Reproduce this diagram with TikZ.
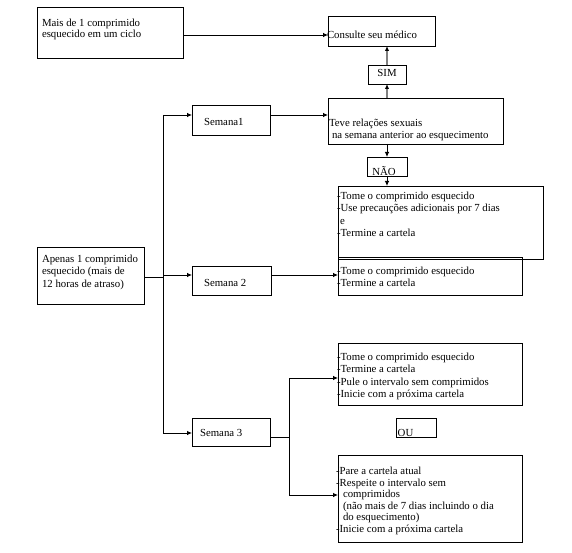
\documentclass[tikz,border=0pt]{standalone}
\usepackage{fontspec}
\setmainfont{Liberation Serif}
\usetikzlibrary{arrows.meta}
\newcommand\mkbox[5]{\node[bx, minimum width={#4-#2}, minimum height={#5-#3}] (#1) at ({(#2+#4)/2},{(#3+#5)/2}) {};}
\begin{document}
\begin{tikzpicture}[x=1pt,y=-1pt,
  bx/.style={draw, line width=0.9pt, inner sep=0pt, outer sep=0pt},
  txt/.style={inner sep=0pt, outer sep=0pt, align=left, font=\fontsize{10.8}{12.4}\selectfont},
  arr/.style={line width=0.8pt, -{Latex[length=5pt,width=4.5pt]}},
  garr/.style={line width=1.4pt, draw=gray, -{Latex[length=5pt,width=4.5pt,color=black]}},
  ln/.style={line width=0.8pt}]
\useasboundingbox (0,0) rectangle (572,553);
% boxes
\mkbox{b1}{37}{7}{183}{58}
\mkbox{cons}{328}{16}{435}{46}
\mkbox{sim}{368}{65}{406}{84}
\mkbox{teve}{328}{98}{503}{144}
\mkbox{nao}{367}{157}{407}{176}
\mkbox{b3}{338}{186}{543}{259}
\mkbox{res2}{338}{257}{522}{295}
\mkbox{ap}{37}{247}{144}{304}
\mkbox{s1}{192}{105}{270}{135}
\mkbox{s2}{192}{266}{271}{295}
\mkbox{s3}{192}{418}{270}{446}
\mkbox{pule}{338}{343}{522}{405}
\mkbox{ou}{396}{418}{436}{437}
\mkbox{last}{338}{455}{522}{542}
% texts
\node[txt, anchor=north west, font=\fontsize{10.8}{11.2}\selectfont] (tb1) at (42,19) {Mais de 1 comprimido\\esquecido em um ciclo};
\node[txt, anchor=north west] (tcons) at (327,31) {Consulte seu médico};
\node[txt, anchor=base] (tsim) at (387,77) {SIM};
\node[txt, anchor=north west] (tteve) at (329,119) {Teve relações sexuais\\\hspace{3pt}na semana anterior ao esquecimento};
\node[txt, anchor=base] (tnao) at (384,175.5) {NÃO};
\node[txt, anchor=north west] (tb3) at (337,192) {-Tome o comprimido esquecido\\-Use precauções adicionais por 7 dias\\\hspace{3pt}e\\-Termine a cartela};
\node[txt, anchor=north west] (tres2) at (337,267) {-Tome o comprimido esquecido\\-Termine a cartela};
\node[txt, anchor=north west] (tap) at (42,255) {Apenas 1 comprimido\\esquecido (mais de\\12 horas de atraso)};
\node[txt, anchor=base west] (ts1) at (204,126) {Semana1};
\node[txt, anchor=base west] (ts2) at (204,286.5) {Semana 2};
\node[txt, anchor=base west] (ts3) at (200,436.5) {Semana 3};
\node[txt, anchor=north west] (tpule) at (337,353) {-Tome o comprimido esquecido\\-Termine a cartela\\-Pule o intervalo sem comprimidos\\-Inicie com a próxima cartela};
\node[txt, anchor=base] (tou) at (405.5,436.5) {OU};
\node[txt, anchor=north west, font=\fontsize{10.8}{11.6}\selectfont] (tlast) at (336,467) {-Pare a cartela atual\\-Respeite o intervalo sem\\\hspace{7pt}comprimidos\\\hspace{7pt}(não mais de 7 dias incluindo o dia\\\hspace{7pt}do esquecimento)\\-Inicie com a próxima cartela};
% connectors
\coordinate (j1) at (163,115);
\coordinate (j3) at (163,433);
\coordinate (k1) at (289,378);
\coordinate (k3) at (289,495);
\draw[arr] (b1.east |- 0,35) -- (cons.west |- 0,35);
\draw[garr] (teve.north -| sim.south) -- (sim.south);
\draw[garr] (sim.north) -- (cons.south -| sim.north);
\draw[arr] (teve.south -| nao.north) -- (nao.north);
\draw[arr] (nao.south) -- (b3.north -| nao.south);
\draw[ln] (ap.east |- 0,277) -- (163,277);
\draw[ln] (j1) -- (j3);
\draw[arr] (j1) -- (s1.west |- j1);
\draw[arr] (163,275) -- (s2.west |- 0,275);
\draw[arr] (j3) -- (s3.west |- j3);
\draw[arr] (s1.east |- j1) -- (teve.west |- j1);
\draw[arr] (s2.east |- 0,275) -- (res2.west |- 0,275);
\draw[ln] (s3.east |- 0,437) -- (289,437);
\draw[ln] (k1) -- (k3);
\draw[arr] (k1) -- (pule.west |- k1);
\draw[arr] (k3) -- (last.west |- k3);
\end{tikzpicture}
\end{document}
